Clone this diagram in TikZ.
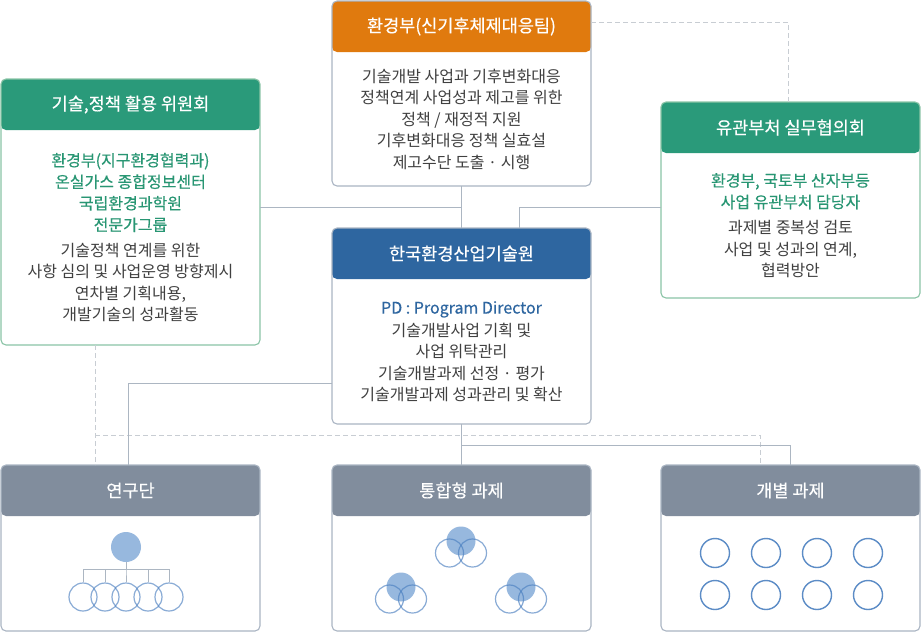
\documentclass[tikz,border=0pt]{standalone}
\usepackage{fontspec}
\setmainfont{Noto Sans CJK KR}
\newfontfamily\krmid[FakeBold=0.4]{Noto Sans CJK KR}
\usetikzlibrary{positioning,calc}
\definecolor{HeadGreen}{RGB}{42,154,122}
\definecolor{HeadOrange}{RGB}{224,122,14}
\definecolor{HeadBlue}{RGB}{46,102,160}
\definecolor{HeadGray}{RGB}{129,141,157}
\definecolor{EdgeGreen}{RGB}{138,196,166}
\definecolor{EdgeGray}{RGB}{170,181,195}
\definecolor{LinkGray}{RGB}{172,182,194}
\definecolor{DashGray}{RGB}{200,205,211}
\definecolor{TextGray}{RGB}{64,64,64}
\definecolor{TextGreen}{RGB}{40,150,115}
\definecolor{CircBlue}{RGB}{74,127,192}
\definecolor{CircFill}{RGB}{151,184,222}
\newcommand\grline[1]{\textcolor{TextGreen}{\krmid #1}}
\newcommand\blline[1]{\textcolor{HeadBlue}{\krmid #1}}

\begin{document}
\begin{tikzpicture}[x=1pt,y=-1pt,
    panel/.style 2 args={draw=#1,fill=white,rounded corners=5pt,line width=1.1pt,
      inner sep=0pt,outer sep=0pt,anchor=north west,minimum width=259pt,
      path picture={\fill[#2] (path picture bounding box.north west)
        rectangle ([yshift=-51pt]path picture bounding box.north east);}},
    htitle/.style={text=white,font=\krmid\fontsize{17.5}{20}\selectfont,inner sep=0pt},
    txt/.style={align=center,text=TextGray,font=\fontsize{16}{21.5}\selectfont,inner sep=0pt},
    link/.style={draw=LinkGray,line width=1pt},
    dlink/.style={draw=DashGray,line width=1pt,dash pattern=on 5pt off 3pt},
    dot/.style={circle,fill=CircFill,inner sep=0pt,minimum size=30pt},
    ring/.style={circle,draw=CircBlue,draw opacity=.65,line width=1.2pt,inner sep=0pt,minimum size=28pt},
    cell/.style={circle,draw=CircBlue!90,line width=1.4pt,inner sep=0pt,minimum size=29pt}
  ]
  \useasboundingbox (0,0) rectangle (921,632);

  % panels
  \node[panel={EdgeGreen}{HeadGreen},minimum height=266pt] (com) at (1,79) {};
  \node[panel={EdgeGray}{HeadOrange},minimum height=185pt] (moe) at (332,1) {};
  \node[panel={EdgeGreen}{HeadGreen},minimum height=196pt] (cou) at (661,102) {};
  \node[panel={EdgeGray}{HeadBlue},minimum height=196pt] (kei) at (332,228) {};
  \node[panel={EdgeGray}{HeadGray},minimum height=166pt] (yeon) at (1,465) {};
  \node[panel={EdgeGray}{HeadGray},minimum height=166pt] (tong) at (332,465) {};
  \node[panel={EdgeGray}{HeadGray},minimum height=166pt] (gae) at (661,465) {};

  % titles
  \node[htitle] (com-t) at ([yshift=-25.5pt]com.north) {기술,정책 활용 위원회};
  \node[htitle] (moe-t) at ([yshift=-25.5pt]moe.north) {환경부(신기후체제대응팀)};
  \node[htitle] (cou-t) at ([yshift=-25.5pt]cou.north) {유관부처 실무협의회};
  \node[htitle] (kei-t) at ([yshift=-25.5pt]kei.north) {한국환경산업기술원};
  \node[htitle] (yeon-t) at ([yshift=-25.5pt]yeon.north) {연구단};
  \node[htitle] (tong-t) at ([yshift=-25.5pt]tong.north) {통합형 과제};
  \node[htitle] (gae-t) at ([yshift=-25.5pt]gae.north) {개별 과제};

  % body texts
  \node[txt] (com-b) at ($(com.south)!.5!([yshift=-51pt]com.north)$)
    {\grline{환경부(지구환경협력과)}\\\grline{온실가스 종합정보센터}\\
     \grline{국립환경과학원}\\\grline{전문가그룹}\\[4pt]
     기술정책 연계를 위한\\사항 심의 및 사업운영 방향제시\\
     연차별 기획내용,\\개발기술의 성과활동};
  \node[txt] (moe-b) at ($(moe.south)!.5!([yshift=-51pt]moe.north)$)
    {기술개발 사업과 기후변화대응\\정책연계 사업성과 제고를 위한\\
     정책 / 재정적 지원\\기후변화대응 정책 실효설\\제고수단 도출 · 시행};
  \node[txt] (cou-b) at ($(cou.south)!.5!([yshift=-51pt]cou.north)$)
    {\grline{환경부, 국토부 산자부등}\\\grline{사업 유관부처 담당자}\\[4pt]
     과제별 중복성 검토\\사업 및 성과의 연계,\\협력방안};
  \node[txt] (kei-b) at ($(kei.south)!.5!([yshift=-51pt]kei.north)$)
    {\blline{PD : Program Director}\\[1pt]
     기술개발사업 기획 및\\사업 위탁관리\\
     기술개발과제 선정 · 평가\\기술개발과제 성과관리 및 확산};

  % connectors
  \coordinate (jl) at (moe.south |- 0,207);
  \coordinate (jr) at (519,207);
  \coordinate (jb) at (kei.south |- 0,445);
  \coordinate (jw) at (128,383);
  \coordinate (dt) at (788,22);
  \coordinate (dl) at (95,435);
  \coordinate (dk) at (760,435);
  \draw[dlink] (moe.east |- dt) -- (dt) -- (dt |- cou.north);
  \draw[dlink] (com.south -| dl) -- (dl |- yeon.north);
  \draw[dlink] (dl) -- (dk) -- (dk |- gae.north);
  \draw[link] (moe.south) -- (kei.north);
  \draw[link] (com.east |- jl) -- (jl);
  \draw[link] (cou.west |- jr) -- (jr) -- (jr |- kei.north);
  \draw[link] (kei.south) -- (tong.north);
  \draw[link] (jb) -| (gae.north);
  \draw[link] (kei.west |- jw) -- (jw) -- (jw |- yeon.north);

  % research group tree
  \node[dot] (lead) at (126,547) {};
  \foreach \i/\x in {1/83,2/105,3/126,4/148,5/169}
    \node[ring] (m\i) at (\x,597) {};
  \foreach \i in {1,...,5}
    \draw[link] (lead.south) -- ++(0,7) -| (m\i.north);

  % integrated projects
  \foreach \n/\x/\y in {a/461/541,b/401/587,c/521/587}{
    \node[dot,minimum size=29pt] (\n) at (\x,\y) {};
    \node[ring] (\n1) at (\x-11.5,\y+12) {};
    \node[ring] (\n2) at (\x+11.5,\y+12) {};
  }

  % single projects
  \foreach \r/\y in {1/553,2/595}
    \foreach \c/\x in {1/715,2/766,3/817,4/868}
      \node[cell] (g\r\c) at (\x,\y) {};
\end{tikzpicture}
\end{document}
